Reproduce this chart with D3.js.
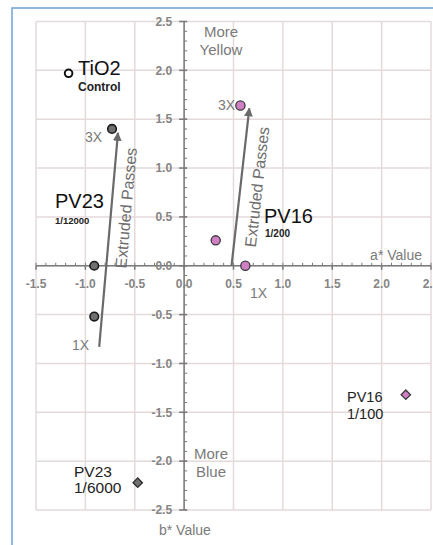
<!DOCTYPE html>
<html>
<head>
<meta charset="utf-8">
<script src="https://cdn.jsdelivr.net/npm/d3@7"></script>
<style>
  body { margin: 0; background: #fff; }
  svg { display: block; font-family: "Liberation Sans", Arial, sans-serif; }
</style>
</head>
<body>
<svg id="chart" width="433" height="545"></svg>
<script>
// a* / b* colour shift values
const tio2Control = [{ a: -1.17, b: 1.97 }];
const pv23Passes = [{ a: -0.91, b: -0.52 }, { a: -0.91, b: 0.0 }, { a: -0.73, b: 1.40 }];
const pv16Passes = [{ a: 0.62, b: 0.0 }, { a: 0.32, b: 0.26 }, { a: 0.57, b: 1.64 }];
const pv23Single = [{ a: -0.47, b: -2.22 }];
const pv16Single = [{ a: 2.245, b: -1.32 }];

// "Extruded Passes" arrows, [a, b] start -> end
const pv23Arrow = [[-0.86, -0.83], [-0.67, 1.36]];
const pv16Arrow = [[0.48, 0.0], [0.66, 1.61]];

const majorTicks = [-2.5, -2.0, -1.5, -1.0, -0.5, 0.0, 0.5, 1.0, 1.5, 2.0, 2.5];
const xTicks = [-1.5, -1.0, -0.5, 0.0, 0.5, 1.0, 1.5, 2.0, 2.5];

const svg = d3.select("#chart");

const x = d3.scaleLinear().domain([-1.5, 2.5]).range([36, 431]);
const y = d3.scaleLinear().domain([-2.5, 2.5]).range([510, 21.5]);

// blue frame (top + left only)
svg.append("path")
    .attr("d", "M12,545V8H433")
    .attr("fill", "none")
    .attr("stroke", "#6fa3d8")
    .attr("stroke-width", 1.5);

// grid
const grid = svg.append("g").attr("stroke", "#e4dada").attr("stroke-width", 1.5);
grid.selectAll("line.v").data(xTicks).join("line")
    .attr("x1", d => x(d)).attr("x2", d => x(d))
    .attr("y1", y(2.5)).attr("y2", y(-2.5));
grid.selectAll("line.h").data(majorTicks).join("line")
    .attr("x1", x(-1.5)).attr("x2", x(2.5))
    .attr("y1", d => y(d)).attr("y2", d => y(d));

// axes through the origin
const axisCol = "#7a7a7a";
const ax = svg.append("g").attr("stroke", axisCol).attr("stroke-width", 1.5);
ax.append("line").attr("x1", x(-1.5)).attr("x2", x(2.5)).attr("y1", y(0)).attr("y2", y(0));
ax.append("line").attr("x1", x(0)).attr("x2", x(0)).attr("y1", y(2.5)).attr("y2", y(-2.5));

const minorX = d3.range(-15, 26).map(d => d / 10);
const minorY = d3.range(-25, 26).map(d => d / 10);
ax.selectAll("line.mx").data(minorX).join("line")
    .attr("stroke-width", 1)
    .attr("x1", d => x(d)).attr("x2", d => x(d))
    .attr("y1", y(0) - 3).attr("y2", y(0));
ax.selectAll("line.my").data(minorY).join("line")
    .attr("stroke-width", 1)
    .attr("x1", x(0)).attr("x2", x(0) + 3)
    .attr("y1", d => y(d)).attr("y2", d => y(d));
ax.selectAll("line.My").data(majorTicks).join("line")
    .attr("x1", x(0) - 5).attr("x2", x(0) + 3)
    .attr("y1", d => y(d)).attr("y2", d => y(d));
ax.selectAll("line.Mx").data(xTicks).join("line")
    .attr("x1", d => x(d)).attr("x2", d => x(d))
    .attr("y1", y(0)).attr("y2", y(0) + 4);

// tick labels
const tickStyle = sel => sel.attr("font-size", 12).attr("font-weight", "bold").attr("fill", "#858585");
svg.append("g").selectAll("text").data(xTicks).join("text")
    .call(tickStyle)
    .attr("x", d => x(d)).attr("y", y(0) + 22)
    .attr("text-anchor", "middle")
    .text(d => d3.format(".1f")(d).replace("−", "-"));
svg.append("g").selectAll("text").data(majorTicks).join("text")
    .call(tickStyle)
    .attr("x", x(0) - 12).attr("y", d => y(d)).attr("dy", "0.35em")
    .attr("text-anchor", "end")
    .text(d => d3.format(".1f")(d).replace("−", "-"));

// axis titles and direction hints
const grey = "#7a7a7a";
svg.append("text").attr("x", 422).attr("y", y(0) - 6).attr("text-anchor", "end")
    .attr("font-size", 14).attr("fill", grey).text("a* Value");
svg.append("text").attr("x", 159).attr("y", 535)
    .attr("font-size", 14).attr("fill", grey).text("b* Value");
svg.append("text").attr("x", 221).attr("y", 37).attr("text-anchor", "middle")
    .attr("font-size", 15).attr("fill", grey).text("More");
svg.append("text").attr("x", 221).attr("y", 55).attr("text-anchor", "middle")
    .attr("font-size", 15).attr("fill", grey).text("Yellow");
svg.append("text").attr("x", 211).attr("y", 459).attr("text-anchor", "middle")
    .attr("font-size", 15).attr("fill", grey).text("More");
svg.append("text").attr("x", 211).attr("y", 477).attr("text-anchor", "middle")
    .attr("font-size", 15).attr("fill", grey).text("Blue");

// arrows
svg.append("defs").append("marker")
    .attr("id", "head")
    .attr("viewBox", "0 0 10 10")
    .attr("refX", 9).attr("refY", 5)
    .attr("markerWidth", 4).attr("markerHeight", 4)
    .attr("orient", "auto")
    .append("path").attr("d", "M0,0L10,5L0,10Z").attr("fill", "#6a6a6a");

const line = d3.line().x(d => x(d[0])).y(d => y(d[1]));
[pv23Arrow, pv16Arrow].forEach(arr => {
    svg.append("path")
        .attr("d", line(arr))
        .attr("stroke", "#6a6a6a")
        .attr("stroke-width", 2.2)
        .attr("fill", "none")
        .attr("marker-end", "url(#head)");
});

function passesLabel(arr, cx, cy) {
    const dx = x(arr[1][0]) - x(arr[0][0]);
    const dy = y(arr[1][1]) - y(arr[0][1]);
    const ang = Math.atan2(dy, dx) * 180 / Math.PI;
    svg.append("text")
        .attr("transform", `translate(${cx},${cy}) rotate(${ang})`)
        .attr("text-anchor", "middle").attr("dy", "0.35em")
        .attr("font-size", 16).attr("fill", "#6e6e6e")
        .text("Extruded Passes");
}
passesLabel(pv23Arrow, 126, 208);
passesLabel(pv16Arrow, 257, 187);

// points
const diamond = d3.symbol(d3.symbolSquare, 44);
svg.append("g").selectAll("circle").data(tio2Control).join("circle")
    .attr("cx", d => x(d.a)).attr("cy", d => y(d.b)).attr("r", 3.8)
    .attr("fill", "#fff").attr("stroke", "#111").attr("stroke-width", 2);
svg.append("g").selectAll("circle").data(pv23Passes).join("circle")
    .attr("cx", d => x(d.a)).attr("cy", d => y(d.b)).attr("r", 4.3)
    .attr("fill", "#707070").attr("stroke", "#1a1a1a").attr("stroke-width", 1.6);
svg.append("g").selectAll("circle").data(pv16Passes).join("circle")
    .attr("cx", d => x(d.a)).attr("cy", d => y(d.b)).attr("r", 4.6)
    .attr("fill", "#cf7fc4").attr("stroke", "#3a3a3a").attr("stroke-width", 1.3);
svg.append("g").selectAll("path").data(pv23Single).join("path")
    .attr("d", diamond)
    .attr("transform", d => `translate(${x(d.a)},${y(d.b)}) rotate(45)`)
    .attr("fill", "#707070").attr("stroke", "#2a2a2a").attr("stroke-width", 1.3);
svg.append("g").selectAll("path").data(pv16Single).join("path")
    .attr("d", diamond)
    .attr("transform", d => `translate(${x(d.a)},${y(d.b)}) rotate(45)`)
    .attr("fill", "#cf7fc4").attr("stroke", "#3a3a3a").attr("stroke-width", 1.3);

// annotations
function txt(tx, ty, str, size, opts = {}) {
    return svg.append("text").attr("x", tx).attr("y", ty)
        .attr("font-size", size)
        .attr("font-weight", opts.bold ? "bold" : "normal")
        .attr("fill", opts.fill || "#111")
        .attr("text-anchor", opts.anchor || "start")
        .text(str);
}
txt(78, 75, "TiO2", 20);
txt(78, 91, "Control", 12, { bold: true, fill: "#222" });
txt(55, 208, "PV23", 20);
txt(55, 224, "1/12000", 9.5, { bold: true, fill: "#222" });
txt(264, 223, "PV16", 20);
txt(265, 237, "1/200", 10, { bold: true, fill: "#222" });
txt(102, 142, "3X", 14, { fill: grey, anchor: "end" });
txt(235, 110, "3X", 14, { fill: grey, anchor: "end" });
txt(89, 350, "1X", 14, { fill: grey, anchor: "end" });
txt(250, 298, "1X", 14, { fill: grey });
txt(74, 477, "PV23", 15.5, { fill: "#222" });
txt(74, 493, "1/6000", 15.5, { fill: "#222" });
txt(347, 402, "PV16", 14.5, { fill: "#222" });
txt(347, 419, "1/100", 14.5, { fill: "#222" });
</script>
</body>
</html>
